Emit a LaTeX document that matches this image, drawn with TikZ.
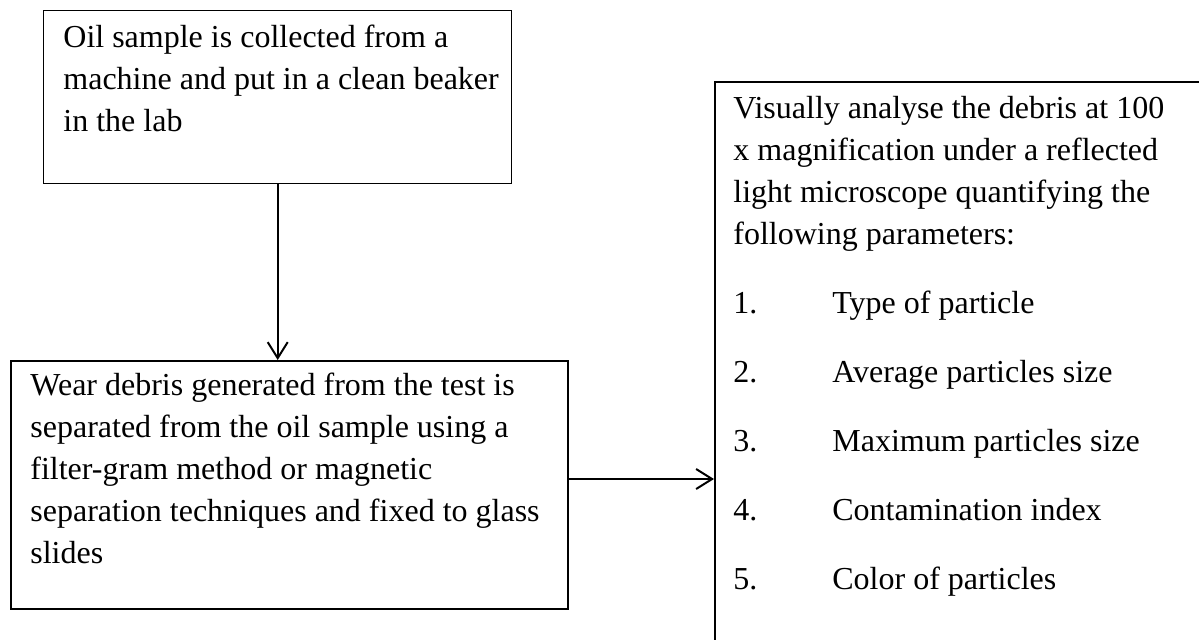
\documentclass[tikz,border=0pt]{standalone}
\usepackage{fontspec}
\setmainfont{Liberation Serif}
\usetikzlibrary{positioning,arrows.meta}
\tikzstyle{cadre}=[draw,line width=1pt,rectangle,anchor=north west,inner sep=0pt]
\tikzstyle{texte}=[align=left,inner sep=0pt,font=\fontsize{16pt}{21pt}\selectfont]
\tikzstyle{fleche}=[line width=1pt,-{Straight Barb[length=8pt,width=10pt]}]
\newcommand{\puce}[1]{\makebox[49.5pt][l]{#1}}

\begin{document}
\begin{tikzpicture}[x=0.5pt,y=-0.5pt]

\clip (0,0) rectangle (1199,639);

\node[cadre,line width=0.7pt,minimum width=234pt,minimum height=86.5pt] (box1) at (43,10) {};
\node[cadre,minimum width=278.5pt,minimum height=124pt] (box2) at (10,360) {};
\node[cadre,minimum width=260pt,minimum height=300pt] (box3) at (714,81) {};

\node[texte] (txt1) [below right=7.5pt and 10pt of box1.north west] {Oil sample is collected from a\\machine and put in a clean beaker\\in the lab};
\node[texte] (txt2) [below right=6.5pt and 10pt of box2.north west] {Wear debris generated from the test is\\separated from the oil sample using a\\filter-gram method or magnetic\\separation techniques and fixed to glass\\slides};
\node[texte] (txt3) [below right=7.5pt and 9.5pt of box3.north west] {Visually analyse the debris at 100\\x magnification under a reflected\\light microscope quantifying the\\following parameters:\\[13.5pt]
\puce{1.}Type of particle\\[13.5pt]
\puce{2.}Average particles size\\[13.5pt]
\puce{3.}Maximum particles size\\[13.5pt]
\puce{4.}Contamination index\\[13.5pt]
\puce{5.}Color of particles};

\draw[fleche] (box1.south) -- (box1.south |- box2.north);
\draw[fleche] ([yshift=3pt]box2.east) -- ([yshift=3pt]box2.east -| box3.west);

\end{tikzpicture}
\end{document}
